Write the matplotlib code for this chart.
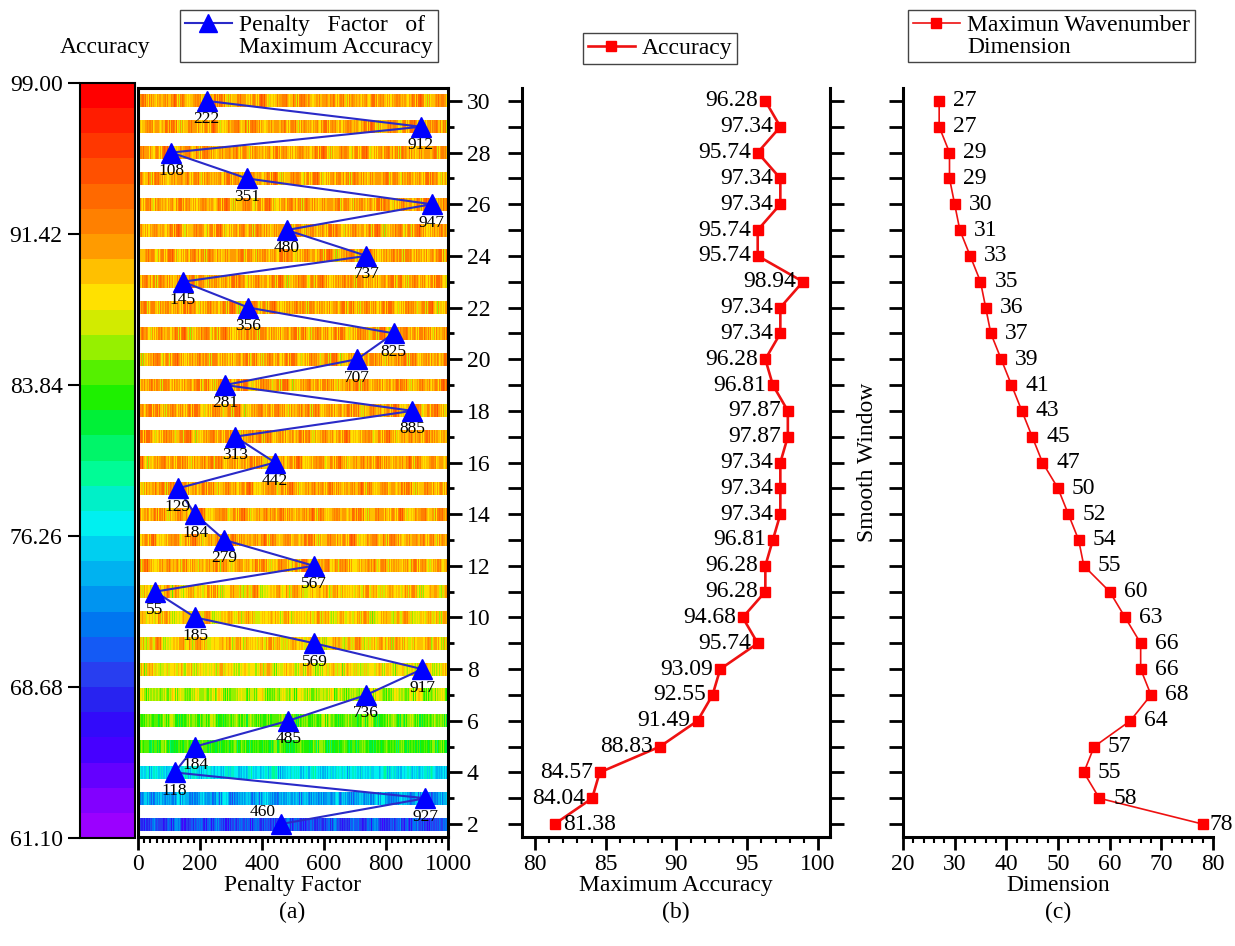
import matplotlib
matplotlib.use('Agg')
import matplotlib.pyplot as plt
import numpy as np
from matplotlib.colors import ListedColormap, BoundaryNorm
from matplotlib.cm import ScalarMappable
from matplotlib.lines import Line2D
from matplotlib.ticker import MultipleLocator

plt.rcParams['font.family'] = ['Liberation Serif', 'DejaVu Serif']
plt.rcParams['font.size'] = 17

# smooth window 2..30
smooth = list(range(2, 31))
# penalty factor giving max accuracy for each smooth window
pen_best = [460, 927, 118, 184, 485, 736, 917, 569, 185, 55, 567, 279, 184, 129, 442,
            313, 885, 281, 707, 825, 356, 145, 737, 480, 947, 351, 108, 912, 222]
# maximum accuracy for each smooth window
acc_max = [81.38, 84.04, 84.57, 88.83, 91.49, 92.55, 93.09, 95.74, 94.68, 96.28, 96.28,
           96.81, 97.34, 97.34, 97.34, 97.87, 97.87, 96.81, 96.28, 97.34, 97.34, 98.94,
           95.74, 95.74, 97.34, 97.34, 95.74, 97.34, 96.28]
# maximum wavenumber dimension for each smooth window
dim_max = [78, 58, 55, 57, 64, 68, 66, 66, 63, 60, 55, 54, 52, 50, 47, 45, 43, 41, 39,
           37, 36, 35, 33, 31, 30, 29, 29, 27, 27]

# rough accuracy range seen in each stripe of the heat map (row 2..30)
row_low = [65, 69, 72.5, 79.5, 80.5, 82, 83.5, 84, 84, 84, 85] + [85.5] * 18
row_high = [74, 78, 80, 87, 88, 90, 92, 93.5, 93, 93.5, 94.5] + [94.8] * 18
# hand-picked texture used to spread each row between its low and high value
texture_a = [0.62, 0.35, 0.81, 0.55, 0.12, 0.70, 0.48, 0.93, 0.27, 0.66, 0.40, 0.85, 0.58,
             0.20, 0.74, 0.51, 0.33, 0.97, 0.61, 0.44, 0.08, 0.77, 0.53, 0.30, 0.89, 0.64,
             0.46, 0.17, 0.72, 0.57, 0.38, 0.83, 0.25, 0.68, 0.50, 0.91, 0.42, 0.60, 0.15,
             0.79, 0.54]
texture_b = [0.45, 0.80, 0.30, 0.65, 0.55, 0.10, 0.90, 0.40, 0.70, 0.25, 0.60, 0.85, 0.50,
             0.35, 0.75, 0.20, 0.95, 0.58, 0.05, 0.68, 0.48, 0.88, 0.38]

# colour bar levels (bottom to top), 30 bands
band_rgb = [(155, 0, 255), (130, 0, 255), (100, 0, 255), (70, 0, 255), (50, 10, 250), (40, 35, 240),
            (40, 62, 240), (20, 90, 245), (0, 118, 240), (0, 148, 240), (0, 178, 240), (0, 207, 240),
            (0, 240, 240), (0, 240, 200), (0, 252, 150), (0, 245, 105), (0, 240, 55), (30, 240, 0),
            (85, 240, 0), (150, 240, 0), (210, 235, 0), (255, 225, 0), (255, 192, 0), (255, 155, 0),
            (255, 128, 0), (255, 105, 0), (255, 80, 0), (255, 55, 0), (255, 28, 0), (255, 0, 0)]
cb_ticks = [61.10, 68.68, 76.26, 83.84, 91.42, 99.00]

cmap = ListedColormap([(r / 255, g / 255, b / 255) for r, g, b in band_rgb])
norm = BoundaryNorm(np.linspace(61.10, 99.00, 31), 30)

W, H = 1235, 946
fig = plt.figure(figsize=(W / 100, H / 100), dpi=100)


def box(x0, y0, x1, y1):
    return [x0 / W, 1 - y1 / H, (x1 - x0) / W, (y1 - y0) / H]


cax = fig.add_axes(box(80, 83, 135, 838))
ax_a = fig.add_axes(box(138, 88, 448, 837))
ax_b = fig.add_axes(box(522, 88, 830, 837))
ax_c = fig.add_axes(box(903, 88, 1213, 837))

# ---- colour bar
cb = fig.colorbar(ScalarMappable(norm=norm, cmap=cmap), cax=cax, ticks=cb_ticks)
cb.ax.yaxis.set_ticks_position('left')
cb.ax.yaxis.set_label_position('left')
cb.ax.set_yticklabels(['%.2f' % t for t in cb_ticks])
cb.ax.tick_params(length=9, width=1.5, direction='out', labelsize=17)
cb.ax.minorticks_off()
cb.outline.set_linewidth(1.5)
fig.text(105 / W, 1 - 48 / H, 'Accuracy', ha='center', va='center', fontsize=17)

# ---- (a) heat map stripes
n_col = 320
x_edges = np.linspace(0, 1000, n_col + 1)
cols = np.arange(n_col)
for r, sw in enumerate(smooth):
    ta = np.array([texture_a[(i * 17 + r * 11) % len(texture_a)] for i in cols])
    tb = np.array([texture_b[(i * 5 + r * 3) % len(texture_b)] for i in cols])
    vals = row_low[r] + (row_high[r] - row_low[r]) * (0.65 * ta + 0.35 * tb)
    ax_a.pcolormesh(x_edges, [sw - 0.25, sw + 0.25], vals[None, :], cmap=cmap, norm=norm,
                    shading='flat', rasterized=True)

ax_a.plot(pen_best, smooth, color='#2a2ac8', lw=1.5, marker='^', ms=14,
          mfc='#0000ff', mec='#0000ff', zorder=5)
for p, sw in zip(pen_best, smooth):
    if sw == 2:
        ax_a.annotate(str(p), (p, sw), xytext=(-13, 9), textcoords='offset points',
                      ha='center', va='center', fontsize=12.5, zorder=6)
    else:
        ax_a.annotate(str(p), (p, sw), xytext=(0, -7.5), textcoords='offset points',
                      ha='center', va='top', fontsize=12.5, zorder=6)

ax_a.set_xlim(0, 1000)
ax_a.set_ylim(1.5, 30.5)
ax_a.xaxis.set_major_locator(MultipleLocator(200))
ax_a.xaxis.set_minor_locator(MultipleLocator(20))
ax_a.yaxis.tick_right()
ax_a.set_yticks(range(2, 31, 2))
ax_a.yaxis.set_minor_locator(MultipleLocator(1))
ax_a.tick_params(which='major', direction='out', length=9, width=2, labelsize=17)
ax_a.tick_params(which='minor', direction='out', length=4.5, width=1.5)
ax_a.tick_params(axis='y', which='major', length=10, width=2)
ax_a.tick_params(axis='y', which='minor', length=4, width=2)
for s in ax_a.spines.values():
    s.set_linewidth(2.2)
ax_a.set_xlabel('Penalty Factor', fontsize=17, labelpad=0)

# ---- (b) accuracy
ax_b.plot(acc_max, smooth, color='#ee1111', lw=1.9, marker='s', ms=7,
          mfc='#ff0000', mec='#ff0000')
for a, sw in zip(acc_max, smooth):
    if sw == 2:
        ax_b.annotate('%.2f' % a, (a, sw), xytext=(6, 0), textcoords='offset points',
                      ha='left', va='center', fontsize=17)
    else:
        ax_b.annotate('%.2f' % a, (a, sw), xytext=(-5, 0), textcoords='offset points',
                      ha='right', va='center', fontsize=17)
ax_b.set_xlim(79.08, 100.85)
ax_b.set_ylim(1.5, 30.5)
ax_b.xaxis.set_major_locator(MultipleLocator(5))
ax_b.xaxis.set_minor_locator(MultipleLocator(1))
ax_b.set_yticks(range(2, 31))
ax_b.tick_params(axis='y', left=True, right=True, labelleft=False, direction='out',
                 length=10, width=2)
ax_b.tick_params(axis='x', which='major', direction='out', length=9, width=2, labelsize=17)
ax_b.tick_params(axis='x', which='minor', direction='out', length=4.5, width=1.5)
ax_b.spines['top'].set_visible(False)
for s in ['left', 'right', 'bottom']:
    ax_b.spines[s].set_linewidth(2.2)
ax_b.set_xlabel('Maximum Accuracy', fontsize=17, labelpad=0)

# ---- (c) dimension
ax_c.plot(dim_max, smooth, color='#ee1111', lw=1.2, marker='s', ms=6.5,
          mfc='#ff0000', mec='#ff0000')
for d, sw in zip(dim_max, smooth):
    dx = 5 if sw == 2 else 10
    ax_c.annotate(str(d), (d, sw), xytext=(dx, 0), textcoords='offset points',
                  ha='left', va='center', fontsize=17)
ax_c.set_xlim(20, 80)
ax_c.set_ylim(1.5, 30.5)
ax_c.xaxis.set_major_locator(MultipleLocator(10))
ax_c.xaxis.set_minor_locator(MultipleLocator(2))
ax_c.set_yticks(range(2, 31))
ax_c.tick_params(axis='y', labelleft=False, direction='out', length=10, width=2)
ax_c.tick_params(axis='x', which='major', direction='out', length=9, width=2, labelsize=17)
ax_c.tick_params(axis='x', which='minor', direction='out', length=4.5, width=1.5)
ax_c.spines['top'].set_visible(False)
ax_c.spines['right'].set_visible(False)
for s in ['left', 'bottom']:
    ax_c.spines[s].set_linewidth(2.2)
ax_c.set_xlabel('Dimension', fontsize=17, labelpad=0)
ax_c.set_ylabel('Smooth Window', fontsize=17, labelpad=8)

# ---- legends
blank = Line2D([], [], color='none')
h_a = Line2D([], [], color='#2a2ac8', lw=1.5, marker='^', ms=13, mfc='#0000ff', mec='#0000ff')
h_b = Line2D([], [], color='#ee1111', lw=1.9, marker='s', ms=7, mfc='#ff0000', mec='#ff0000')
h_c = Line2D([], [], color='#ee1111', lw=1.2, marker='s', ms=6.5, mfc='#ff0000', mec='#ff0000')

legend_specs = [
    ([h_a, blank], ['Penalty   Factor   of', 'Maximum Accuracy'], (180, 10)),
    ([h_b], ['Accuracy'], (583, 33)),
    ([h_c, blank], ['Maximun Wavenumber', 'Dimension'], (908, 10)),
]
for handles, labels, (lx, ly) in legend_specs:
    leg = fig.legend(handles, labels, loc='upper left', bbox_to_anchor=(lx / W, 1 - ly / H),
                     frameon=True, fancybox=False, edgecolor='#444444', framealpha=1,
                     labelspacing=0.0, handlelength=2.0, handletextpad=0.3, borderpad=0.2,
                     borderaxespad=0, fontsize=17)
    leg.get_frame().set_linewidth(1.0)

for x, lab in [(292, '(a)'), (676, '(b)'), (1058, '(c)')]:
    fig.text(x / W, 1 - 912 / H, lab, ha='center', va='center', fontsize=17)

fig.savefig('out.png', dpi=100)
